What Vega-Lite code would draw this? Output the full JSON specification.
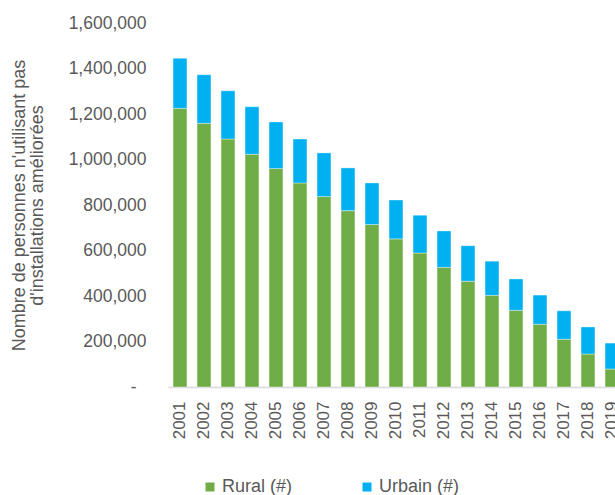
{
  "$schema": "https://vega.github.io/schema/vega-lite/v6.json",
  "autosize": {"type": "none"},
  "padding": {"left": 168, "top": 23, "right": 0, "bottom": 108},
  "width": 456,
  "height": 364,
  "config": {
    "font": "Liberation Sans",
    "view": {"stroke": null},
    "axis": {"grid": false, "labelColor": "#595959", "titleColor": "#595959", "labelFont": "Liberation Sans", "titleFont": "Liberation Sans"}
  },
  "data": {
    "values": [
      {"year": "2001", "type": "Rural (#)", "value": 1225000}, {"year": "2001", "type": "Urbain (#)", "value": 220000},
      {"year": "2002", "type": "Rural (#)", "value": 1159000}, {"year": "2002", "type": "Urbain (#)", "value": 214000},
      {"year": "2003", "type": "Rural (#)", "value": 1090000}, {"year": "2003", "type": "Urbain (#)", "value": 212000},
      {"year": "2004", "type": "Rural (#)", "value": 1023000}, {"year": "2004", "type": "Urbain (#)", "value": 209000},
      {"year": "2005", "type": "Rural (#)", "value": 960000}, {"year": "2005", "type": "Urbain (#)", "value": 205000},
      {"year": "2006", "type": "Rural (#)", "value": 897000}, {"year": "2006", "type": "Urbain (#)", "value": 193000},
      {"year": "2007", "type": "Rural (#)", "value": 837000}, {"year": "2007", "type": "Urbain (#)", "value": 192000},
      {"year": "2008", "type": "Rural (#)", "value": 775000}, {"year": "2008", "type": "Urbain (#)", "value": 188000},
      {"year": "2009", "type": "Rural (#)", "value": 714000}, {"year": "2009", "type": "Urbain (#)", "value": 183000},
      {"year": "2010", "type": "Rural (#)", "value": 651000}, {"year": "2010", "type": "Urbain (#)", "value": 171000},
      {"year": "2011", "type": "Rural (#)", "value": 589000}, {"year": "2011", "type": "Urbain (#)", "value": 166000},
      {"year": "2012", "type": "Rural (#)", "value": 526000}, {"year": "2012", "type": "Urbain (#)", "value": 160000},
      {"year": "2013", "type": "Rural (#)", "value": 465000}, {"year": "2013", "type": "Urbain (#)", "value": 156000},
      {"year": "2014", "type": "Rural (#)", "value": 403000}, {"year": "2014", "type": "Urbain (#)", "value": 150000},
      {"year": "2015", "type": "Rural (#)", "value": 337000}, {"year": "2015", "type": "Urbain (#)", "value": 138000},
      {"year": "2016", "type": "Rural (#)", "value": 276000}, {"year": "2016", "type": "Urbain (#)", "value": 128000},
      {"year": "2017", "type": "Rural (#)", "value": 210000}, {"year": "2017", "type": "Urbain (#)", "value": 125000},
      {"year": "2018", "type": "Rural (#)", "value": 145000}, {"year": "2018", "type": "Urbain (#)", "value": 119000},
      {"year": "2019", "type": "Rural (#)", "value": 79000}, {"year": "2019", "type": "Urbain (#)", "value": 114000}
    ]
  },
  "mark": {"type": "bar", "stroke": "#ffffff", "strokeWidth": 0.75, "strokeOpacity": 0.5},
  "encoding": {
    "x": {
      "field": "year", "type": "nominal",
      "scale": {"paddingInner": 0.42, "paddingOuter": 0.21},
      "axis": {"title": null, "labelAngle": -90, "labelFontSize": 17, "labelPadding": 14, "ticks": false, "domainColor": "#d9d9d9", "domainWidth": 1.5}
    },
    "y": {
      "field": "value", "type": "quantitative", "stack": "zero",
      "scale": {"domain": [0, 1600000], "nice": false},
      "axis": {
        "values": [0, 200000, 400000, 600000, 800000, 1000000, 1200000, 1400000, 1600000],
        "labelExpr": "datum.value == 0 ? '-' : format(datum.value, ',')",
        "labelFontSize": 17.5,
        "labelPadding": {"condition": {"test": "datum.value === 0", "value": 32}, "value": 22},
        "ticks": false, "domain": false,
        "title": ["Nombre de personnes n'utilisant pas", "d'installations améliorées"],
        "titleFontSize": 18, "titleFontWeight": "normal", "titleLineHeight": 18, "titlePadding": 22
      }
    },
    "color": {
      "field": "type", "type": "nominal",
      "scale": {"domain": ["Rural (#)", "Urbain (#)"], "range": ["#70ad47", "#00b0f0"]},
      "legend": {
        "title": null, "orient": "none", "direction": "horizontal", "legendX": 33, "legendY": 455,
        "symbolType": "square", "symbolSize": 81, "symbolStrokeWidth": 0, "symbolOpacity": 1,
        "labelFontSize": 18, "labelColor": "#595959", "labelOffset": 3, "columnPadding": 65
      }
    },
    "order": {"field": "type", "sort": "ascending"}
  }
}
